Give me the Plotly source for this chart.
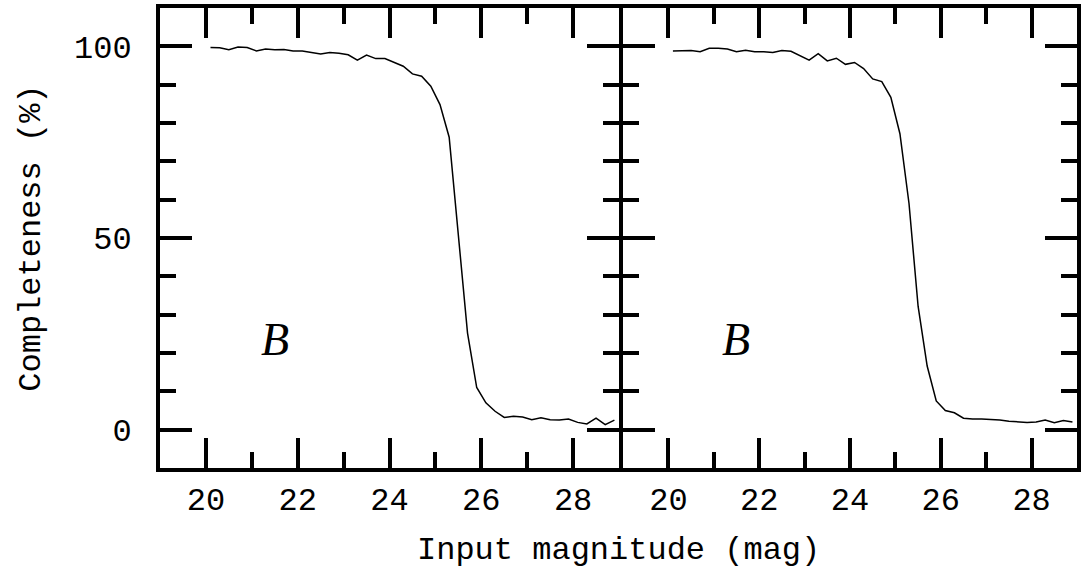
import plotly.graph_objects as go
from plotly.subplots import make_subplots

# input magnitudes of the simulated stars
mag = [20.1, 20.3, 20.5, 20.7, 20.9, 21.1, 21.3, 21.5, 21.7, 21.9,
       22.1, 22.3, 22.5, 22.7, 22.9, 23.1, 23.3, 23.5, 23.7, 23.9,
       24.1, 24.3, 24.5, 24.7, 24.9, 25.1, 25.3, 25.5, 25.7, 25.9,
       26.1, 26.3, 26.5, 26.7, 26.9, 27.1, 27.3, 27.5, 27.7, 27.9,
       28.1, 28.3, 28.5, 28.7, 28.9]

# completeness (%) , left panel
compl_izq = [99.7, 99.6, 99.1, 99.8, 99.7, 98.8, 99.3, 99.1, 99.2, 98.8,
             98.8, 98.4, 98.0, 98.4, 98.2, 97.8, 96.4, 97.7, 96.8, 96.8,
             95.9, 94.8, 92.8, 92.2, 89.6, 84.8, 76.3, 51.0, 25.2, 11.0,
             7.0, 4.8, 3.2, 3.5, 3.3, 2.6, 3.1, 2.6, 2.5, 2.8,
             1.9, 1.5, 3.0, 1.3, 2.5]

# completeness (%) , right panel
compl_der = [98.8, 98.8, 98.9, 98.6, 99.5, 99.5, 99.3, 98.6, 99.0, 98.6,
             98.6, 98.4, 98.9, 98.7, 97.5, 96.4, 98.1, 96.2, 96.9, 95.3,
             95.8, 94.2, 91.5, 90.8, 86.7, 77.2, 59.0, 32.2, 16.6, 7.5,
             5.0, 4.4, 3.0, 2.8, 2.8, 2.7, 2.5, 2.2, 2.1, 1.9,
             2.0, 2.5, 1.8, 2.4, 2.0]

banda = "B"
xticks = [20, 22, 24, 26, 28]
yticks = [0, 50, 100]

fuente = "Liberation Mono"

fig = make_subplots(rows=1, cols=2, shared_yaxes=True, horizontal_spacing=0)

fig.add_trace(go.Scatter(x=mag, y=compl_izq, mode="lines",
                         line=dict(color="black", width=1.5)), row=1, col=1)
fig.add_trace(go.Scatter(x=mag, y=compl_der, mode="lines",
                         line=dict(color="black", width=1.5)), row=1, col=2)

#ejes
ejes_x = dict(range=[19, 29], tickvals=xticks, ticks="inside", ticklen=30, tickwidth=3.5,
              tickcolor="black", showline=True, linewidth=4, linecolor="black",
              mirror="allticks", showgrid=False, zeroline=False,
              minor=dict(dtick=1, tick0=19, ticks="inside", ticklen=16, tickwidth=3.5,
                         tickcolor="black", showgrid=False),
              tickfont=dict(family=fuente, size=32, color="black"),
              ticklabelstandoff=0)
ejes_y = dict(range=[-10, 110], tickvals=yticks, ticks="inside", ticklen=32, tickwidth=3.5,
              tickcolor="black", showline=True, linewidth=4, linecolor="black",
              mirror="allticks", showgrid=False, zeroline=False,
              minor=dict(dtick=10, tick0=0, ticks="inside", ticklen=16, tickwidth=3.5,
                         tickcolor="black", showgrid=False),
              tickfont=dict(family=fuente, size=32, color="black"),
              ticklabelstandoff=18)

fig.update_xaxes(**ejes_x)
fig.update_yaxes(**ejes_y)
fig.update_yaxes(showticklabels=False, row=1, col=2)

# los dos paneles comparten la linea central
ancho = 921
fig.update_layout(xaxis=dict(domain=[0, 461 / ancho]),
                  xaxis2=dict(domain=[465 / ancho, 1]))

# letra de la banda en cada panel
for xref, yref in [("x", "y"), ("x2", "y2")]:
    fig.add_annotation(x=21.5, y=23.5, xref=xref, yref=yref, text=banda, showarrow=False,
                       font=dict(family="Liberation Serif", size=46, color="black", style="italic"))

#titulos
fig.add_annotation(x=0.5, y=-0.18, xref="paper", yref="paper", yanchor="middle",
                   text="Input magnitude (mag)", showarrow=False,
                   font=dict(family=fuente, size=32, color="black"))
fig.add_annotation(x=-0.141, y=0.5, xref="paper", yref="paper", xanchor="center",
                   text="Completeness (%)", textangle=-90, showarrow=False,
                   font=dict(family=fuente, size=32, color="black"))

#tamaño
fig.update_layout(width=1085, height=571, showlegend=False,
                  margin=dict(l=160, r=4, t=7, b=103),
                  plot_bgcolor="white", paper_bgcolor="white")

fig.write_html("out.html", config=dict(displayModeBar=False),
               post_script="document.body.style.margin='0';")
